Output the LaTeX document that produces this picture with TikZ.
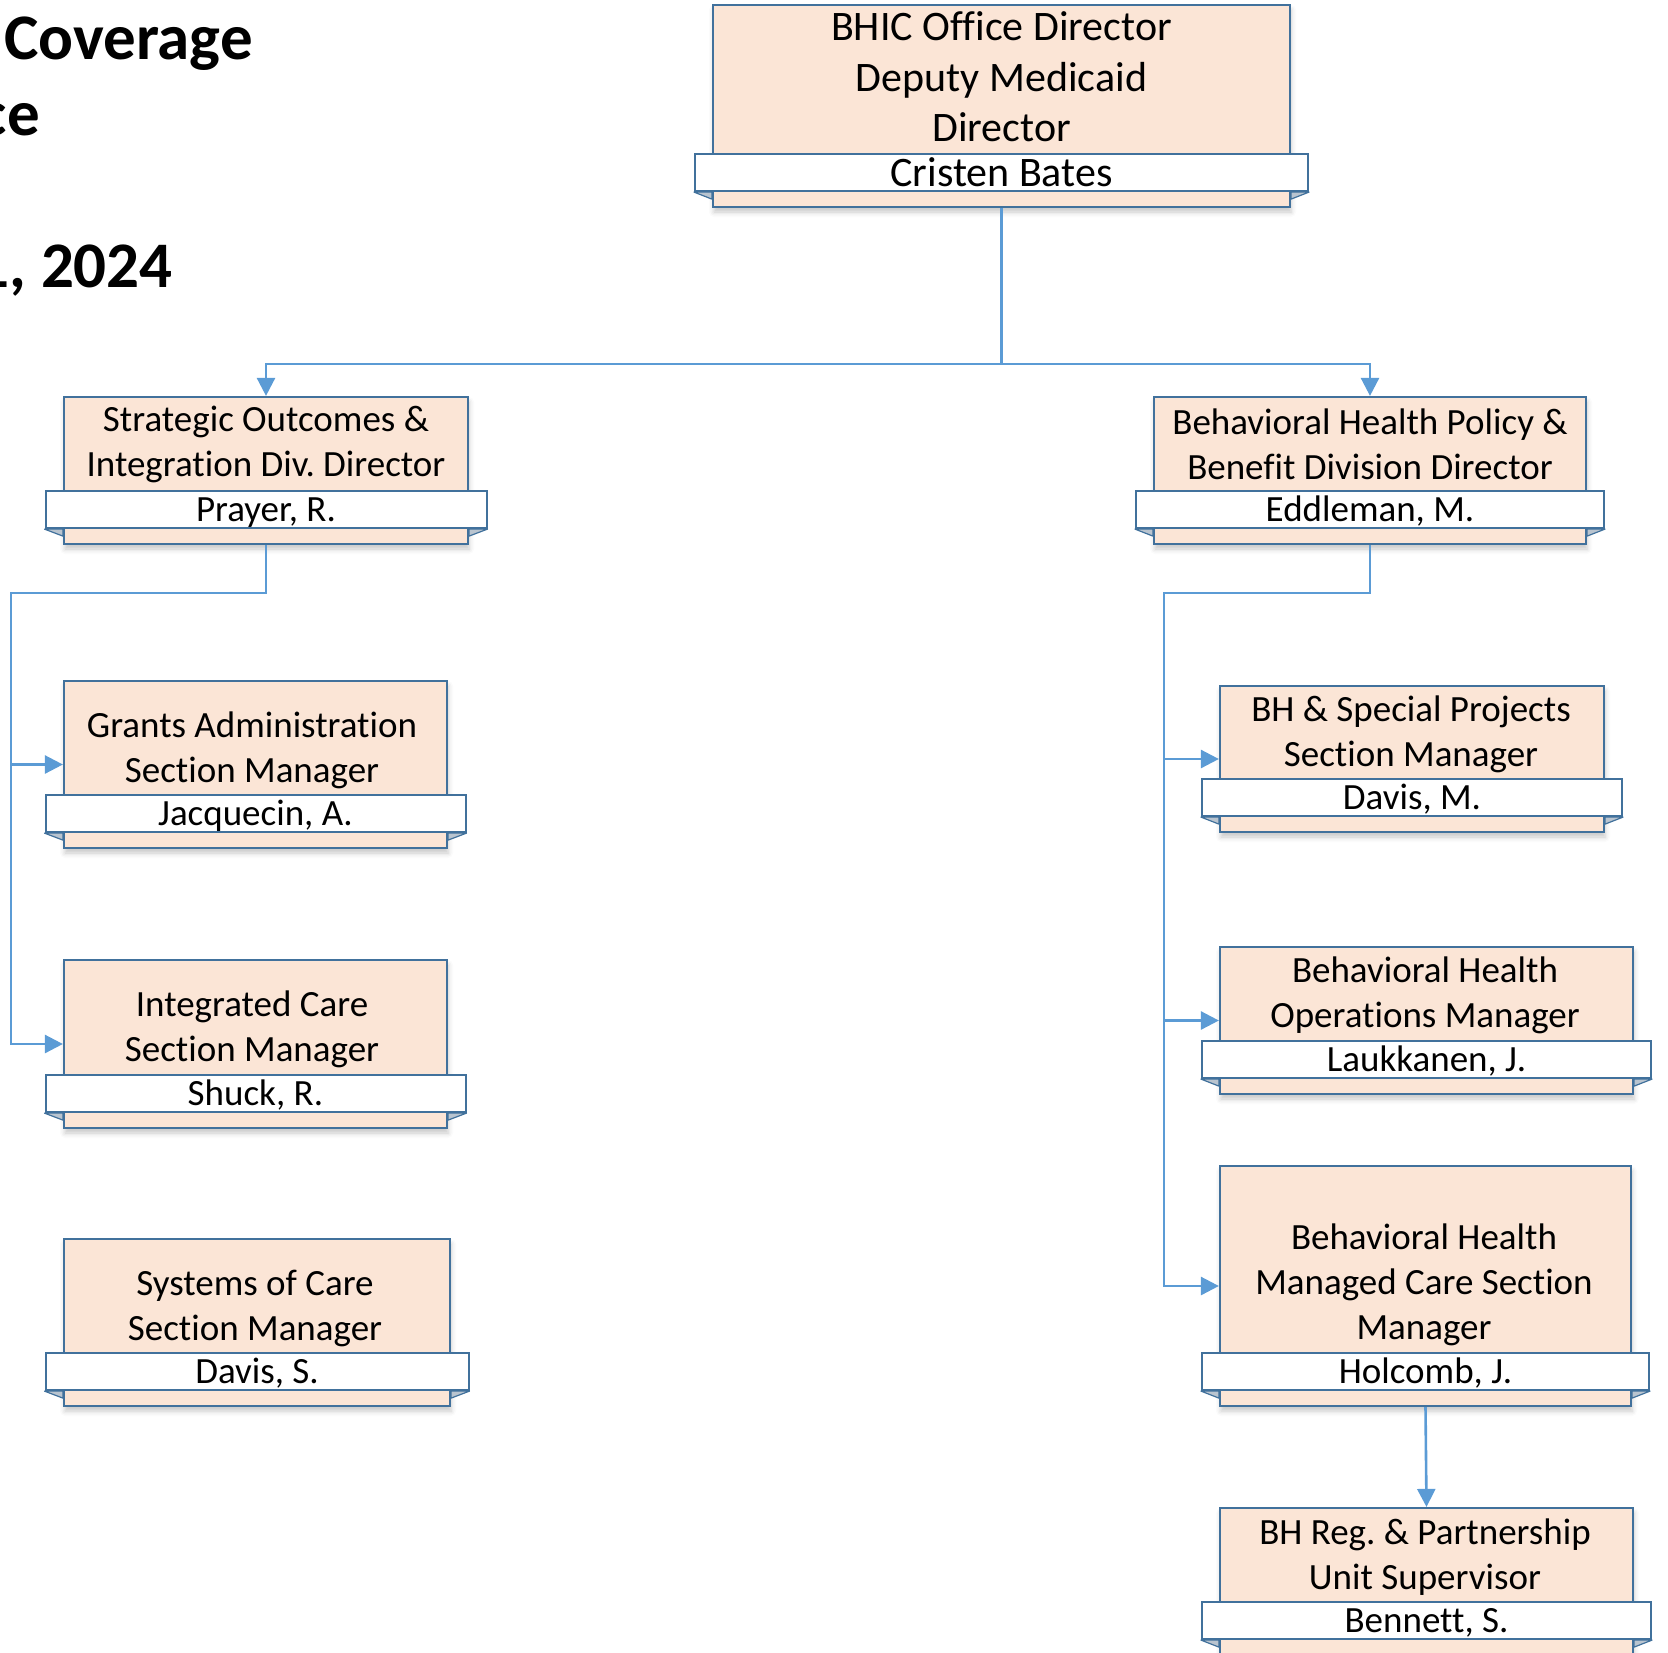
\documentclass[tikz,border=0pt]{standalone}
\usepackage{fontspec}
\setmainfont{Carlito}[Ligatures=NoCommon]
\usetikzlibrary{arrows.meta,positioning,shadows.blur}
\definecolor{orgpeach}{HTML}{FBE5D6}
\definecolor{orgline}{HTML}{41719C}
\definecolor{orgconn}{HTML}{5B9BD5}
\definecolor{orgfold}{HTML}{B9C4CF}
\frenchspacing
% small folded ends under a name band: #1 box, #2 band
\newcommand\orgfolds[2]{%
  \filldraw[draw=orgline,fill=orgfold,line width=1.2pt,line join=round]
    (#2.south west) -- (#1.west |- #2.south) -- ([yshift=-7pt]#1.west |- #2.south) -- cycle
    (#2.south east) -- (#1.east |- #2.south) -- ([yshift=-7pt]#1.east |- #2.south) -- cycle;}

\begin{document}
\begin{tikzpicture}[x=1pt,y=-1pt,
  post/.style={draw=orgline,line width=2.2pt,fill=orgpeach,inner sep=0pt,
    blur shadow={shadow xshift=1pt,shadow yshift=-5pt,shadow blur radius=5pt,shadow opacity=22}},
  band/.style={draw=orgline,line width=2pt,fill=white,inner sep=0pt,minimum height=37pt,
    font=\fontsize{37}{45}\selectfont,text height=30pt,text depth=6pt},
  big/.style={font=\fontsize{42}{50.5}\selectfont,text height=32pt,text depth=4pt},
  ttl/.style={align=center,inner sep=0pt,font=\fontsize{37}{45}\selectfont},
  head/.style={inner sep=0pt,font=\fontsize{65}{76}\selectfont\bfseries},
  conn/.style={orgconn,line width=2.6pt},
  arr/.style={conn,-{Triangle[length=18pt,width=18pt]}}]
  \useasboundingbox (0,0) rectangle (1668,1652);

  \node[head,anchor=base west] (head1) at (4,59) {Coverage};
  \node[head,anchor=base east] (head2) at (40,135) {ce};
  \node[head,anchor=base east] (head3) at (173,287) {1, 2024};

  % boxes
  \node[post,minimum width=577pt,minimum height=202pt] (dir) at (1001.5,106) {};
  \node[post,minimum width=404pt,minimum height=147pt] (soi) at (266,470.5) {};
  \node[post,minimum width=432pt,minimum height=147pt] (bhp) at (1370,470.5) {};
  \node[post,minimum width=383pt,minimum height=167pt] (grants) at (255.5,764.5) {};
  \node[post,minimum width=383pt,minimum height=168pt] (integ) at (255.5,1044) {};
  \node[post,minimum width=386pt,minimum height=167pt] (soc) at (257,1322.5) {};
  \node[post,minimum width=384pt,minimum height=146pt] (bhsp) at (1412,759) {};
  \node[post,minimum width=413pt,minimum height=147pt] (bhops) at (1426.5,1020.5) {};
  \node[post,minimum width=411pt,minimum height=240pt] (bhmc) at (1425.5,1286) {};
  \node[post,minimum width=413pt,minimum height=147pt] (bhreg) at (1426.5,1581.5) {};

  % name bands
  \node[band,big,minimum width=613pt] (dir-n) at ([yshift=35.5pt]dir.south) {Cristen Bates};
  \node[band,minimum width=441pt] (soi-n) at ([yshift=35.5pt]soi.south) {Prayer, R.};
  \node[band,minimum width=468pt] (bhp-n) at ([yshift=35.5pt]bhp.south) {Eddleman, M.};
  \node[band,minimum width=420pt] (grants-n) at ([yshift=35.5pt]grants.south) {Jacquecin, A.};
  \node[band,minimum width=420pt] (integ-n) at ([yshift=35.5pt]integ.south) {Shuck, R.};
  \node[band,minimum width=423pt] (soc-n) at ([yshift=35.5pt]soc.south) {Davis, S.};
  \node[band,minimum width=420pt] (bhsp-n) at ([yshift=35.5pt]bhsp.south) {Davis, M.};
  \node[band,minimum width=449pt] (bhops-n) at ([yshift=35.5pt]bhops.south) {Laukkanen, J.};
  \node[band,minimum width=447pt] (bhmc-n) at ([yshift=35.5pt]bhmc.south) {Holcomb, J.};
  \node[band,minimum width=449pt] (bhreg-n) at ([yshift=35.5pt]bhreg.south) {Bennett, S.};
  \orgfolds{dir}{dir-n}
  \orgfolds{soi}{soi-n}
  \orgfolds{bhp}{bhp-n}
  \orgfolds{grants}{grants-n}
  \orgfolds{integ}{integ-n}
  \orgfolds{soc}{soc-n}
  \orgfolds{bhsp}{bhsp-n}
  \orgfolds{bhops}{bhops-n}
  \orgfolds{bhmc}{bhmc-n}
  \orgfolds{bhreg}{bhreg-n}

  % titles
  \node[ttl,font=\fontsize{42}{50.5}\selectfont] (dir-t) at (1001.5,77) {BHIC Office Director\\Deputy Medicaid\\Director};
  \node[ttl] (soi-t) at (266,444) {Strategic Outcomes \&\\Integration Div. Director};
  \node[ttl] (bhp-t) at (1370,444) {Behavioral Health Policy \&\\Benefit Division Director};
  \node[ttl] (grants-t) at (252,750) {Grants Administration\\Section Manager};
  \node[ttl] (integ-t) at (252,1029) {Integrated Care\\Section Manager};
  \node[ttl] (soc-t) at (255,1308) {Systems of Care\\Section Manager};
  \node[ttl] (bhsp-t) at (1411,734) {BH \& Special Projects\\Section Manager};
  \node[ttl] (bhops-t) at (1425,995) {Behavioral Health\\Operations Manager};
  \node[ttl] (bhmc-t) at (1424,1285) {Behavioral Health\\Managed Care Section\\Manager};
  \node[ttl] (bhreg-t) at (1425,1557) {BH Reg. \& Partnership\\Unit Supervisor};

  % connectors
  \coordinate (topj) at (1001.5,364);
  \draw[conn] (dir.south) -- (topj);
  \draw[arr] (topj) -| (soi.north);
  \draw[arr] (topj) -| (bhp.north);
  \coordinate (lbus) at (11,593);
  \draw[arr] (soi.south) |- (lbus) |- (grants.west);
  \draw[arr] (lbus) |- (integ.west);
  \coordinate (rbus) at (1164,593);
  \draw[arr] (bhp.south) |- (rbus) |- (bhsp.west);
  \draw[arr] (rbus) |- (bhops.west);
  \draw[arr] (rbus) |- (bhmc.west);
  \draw[arr] (bhmc.south) -- (bhreg.north);
\end{tikzpicture}
\end{document}
